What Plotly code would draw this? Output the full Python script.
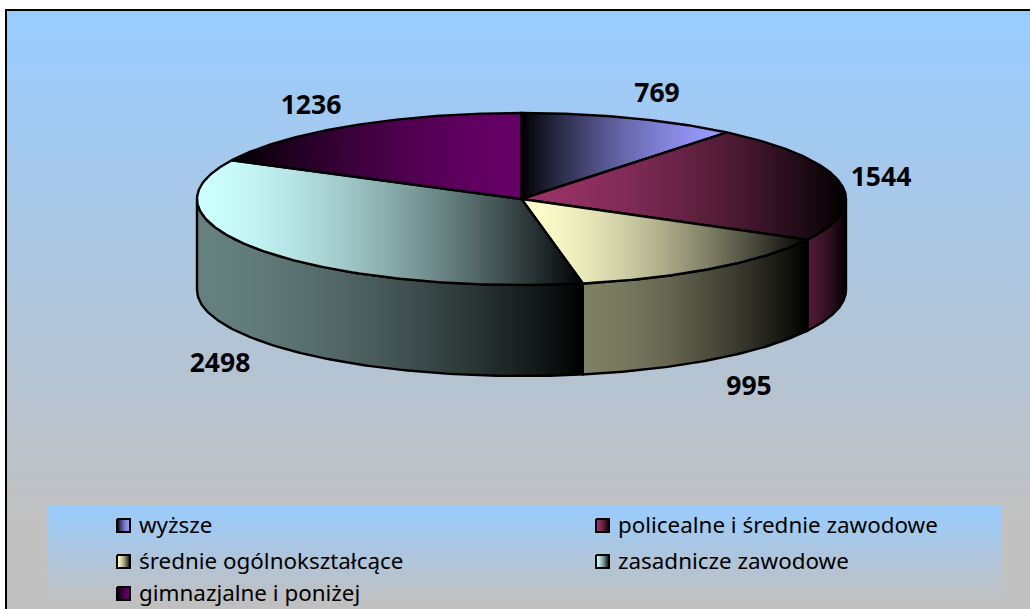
import numpy as np
import plotly.graph_objects as go

categories = ["wyższe", "policealne i średnie zawodowe", "średnie ogólnokształcące",
              "zasadnicze zawodowe", "gimnazjalne i poniżej"]
values = [769, 1544, 995, 2498, 1236]
base_colors = [(153, 153, 255), (153, 51, 102), (255, 255, 204), (204, 255, 255), (102, 0, 102)]
dark_on_left = [True, False, False, False, True]
label_pos = [(657, 95), (881, 179), (749, 388), (220, 365), (311, 107)]
legend_pos = [(117, 519), (596, 519), (117, 555), (596, 555), (117, 587)]

W, H = 1030, 609
CX, CY, A, B, DEPTH = 521.5, 199, 324.5, 86, 91
FONT = "Noto Sans"

fig = go.Figure()


def ramp(rgb, dark_left, factor=1.0):
    stops = []
    for f in np.linspace(0, 1, 17):
        b = 1 - f ** 1.6
        pos = 1 - f if dark_left else f
        c = [int(round(v * b * factor)) for v in rgb]
        stops.append([float(pos), f"rgb({c[0]},{c[1]},{c[2]})"])
    return sorted(stops, key=lambda s: s[0])


def poly(x, y, scale, line=2.4):
    fig.add_trace(go.Scatter(
        x=list(x), y=list(y), mode="lines", fill="toself",
        fillgradient=dict(type="horizontal", colorscale=scale),
        line=dict(color="#000000", width=line), hoverinfo="skip", showlegend=False))


def rect(x0, y0, x1, y1, c0, c1, start, stop):
    fig.add_trace(go.Scatter(
        x=[x0, x1, x1, x0, x0], y=[y0, y0, y1, y1, y0], mode="lines", fill="toself",
        fillgradient=dict(type="vertical", colorscale=[[0, c0], [1, c1]], start=start, stop=stop),
        line=dict(width=0), hoverinfo="skip", showlegend=False))


def edge(theta):
    return CX + A * np.sin(theta), CY - B * np.cos(theta)


# background panel, frame, legend panel
rect(6, 10, W, H, "#99CCFF", "#C0C0C0", 10, 520)
fig.add_trace(go.Scatter(x=[6, 6, W], y=[H, 10, 10], mode="lines",
                         line=dict(color="#000000", width=2), hoverinfo="skip", showlegend=False))
rect(47.5, 505, 1002, H, "#99CCFF", "#C0C0C0", 505, 600)

cum = np.concatenate([[0], np.cumsum(values)]) / sum(values) * 2 * np.pi

# side walls (front half only)
for i in range(len(values)):
    a0, a1 = max(cum[i], np.pi / 2), min(cum[i + 1], 3 * np.pi / 2)
    if a1 <= a0:
        continue
    t = np.linspace(a0, a1, 120)
    ex, ey = edge(t)
    poly(np.r_[ex, ex[::-1], ex[0]], np.r_[ey, ey[::-1] + DEPTH, ey[0]],
         ramp(base_colors[i], dark_on_left[i], 0.5))

# top wedges
for i in range(len(values)):
    t = np.linspace(cum[i], cum[i + 1], 160)
    ex, ey = edge(t)
    poly(np.r_[CX, ex, CX], np.r_[CY, ey, CY], ramp(base_colors[i], dark_on_left[i]))

# value labels
fig.add_trace(go.Scatter(
    x=[p[0] for p in label_pos], y=[p[1] for p in label_pos], mode="text",
    text=[str(v) for v in values], textposition="middle center",
    textfont=dict(family=FONT, size=26.5, color="#000000", weight="bold"),
    hoverinfo="skip", showlegend=False))

# legend
for i, name in enumerate(categories):
    x, y = legend_pos[i]
    poly([x, x + 13, x + 13, x, x], [y, y, y + 13, y + 13, y],
         ramp(base_colors[i], dark_on_left[i]), line=2)
    fig.add_trace(go.Scatter(
        x=[x + 22], y=[y + 8], mode="text", text=[name], textposition="middle right",
        textfont=dict(family=FONT, size=22.4, color="#000000"),
        hoverinfo="skip", showlegend=False))

fig.update_layout(
    width=W, height=H, margin=dict(l=0, r=0, t=0, b=0),
    paper_bgcolor="#FFFFFF", plot_bgcolor="rgba(0,0,0,0)", showlegend=False,
    xaxis=dict(range=[0, W], visible=False, fixedrange=True),
    yaxis=dict(range=[H, 0], visible=False, fixedrange=True),
)
fig.write_html("out.html", config=dict(displayModeBar=False),
               post_script="document.body.style.margin='0';document.body.style.overflow='hidden';")
